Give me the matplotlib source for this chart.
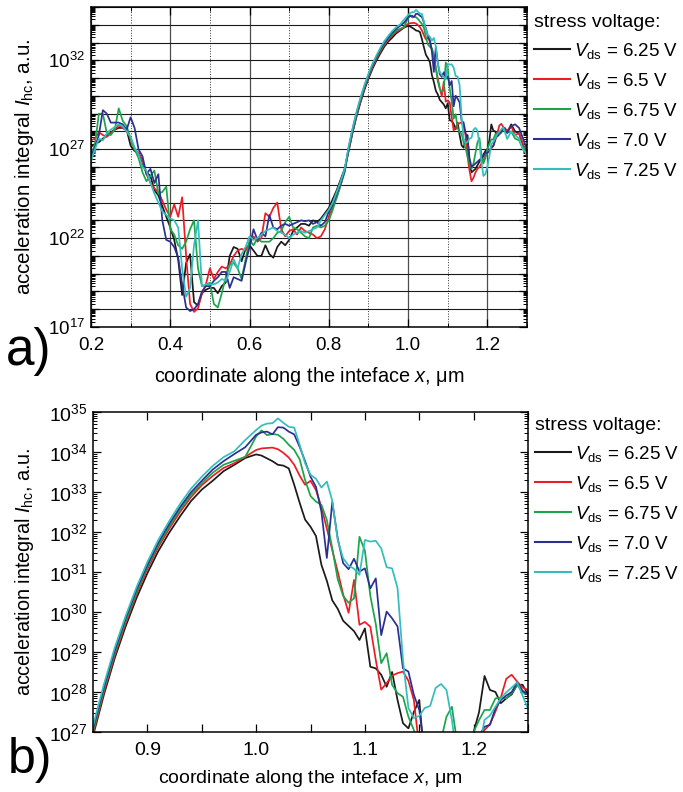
import numpy as np
import matplotlib
matplotlib.use("Agg")
import matplotlib.pyplot as plt
from matplotlib.ticker import LogLocator, MultipleLocator, FuncFormatter, NullFormatter, FormatStrFormatter

plt.rcParams['font.family'] = ['Liberation Sans', 'DejaVu Sans']
plt.rcParams['mathtext.fontset'] = 'custom'
plt.rcParams['mathtext.rm'] = 'Liberation Sans'
plt.rcParams['mathtext.it'] = 'Liberation Sans:italic'
plt.rcParams['mathtext.default'] = 'regular'

# ---- sample positions along the interface (um) ----
x_a = np.round(np.arange(0.20, 0.845, 0.01), 3)    # 0.20 .. 0.84
x_b = np.round(np.arange(0.85, 0.995, 0.01), 3)    # 0.85 .. 0.99
x_c = np.round(np.arange(1.000, 1.2525, 0.005), 3)  # 1.000 .. 1.250
x_d = np.round(np.arange(1.26, 1.305, 0.01), 3)    # 1.26 .. 1.30
x = np.concatenate([x_a, x_b, x_c, x_d])

# ---- log10 of the acceleration integral ----
black_a = [27.14, 27.3, 27.4, 27.6, 27.75, 27.95, 28.1, 28.2, 28.2, 28.1,
           27.2, 26.9, 26.8, 26.1, 25.7, 25.5, 24.7, 24.4, 23.8, 23.2,
           22.6, 21.9, 20.8, 18.8, 20.6, 21.1, 18.4, 18.2, 18.9, 19.1,
           19.2, 19.2, 18.9, 19.3, 19.5, 21.0, 21.5, 21.4, 20.7, 21.4,
           21.6, 21.3, 21.0, 21.0, 21.6, 21.1, 20.9, 21.5, 21.8, 21.6,
           21.9, 22.4, 22.6, 22.8, 22.8, 22.7, 23.0, 22.9, 23.1, 23.4,
           23.7, 24.2, 24.7, 25.3, 25.9]
black_b = [26.9, 27.93, 28.85, 29.64, 30.35, 30.97, 31.52, 31.98, 32.39, 32.77,
           33.06, 33.28, 33.52, 33.68, 33.85]
black_c = [33.94, 33.91, 33.84, 33.77, 33.68, 33.66, 33.59, 33.18, 32.73, 32.31,
           32.13, 31.9, 31.18, 30.78, 30.29, 30.08, 29.78, 29.65, 29.52, 29.3,
           29.59, 28.63, 28.59, 28.43, 28.13, 28.5, 27.8, 27.22, 27.09, 27.5,
           27.8, 26.2, 25.7, 25.8, 25.9, 26.1, 26.3, 26.5, 26.7, 26.9,
           27.0, 27.5, 28.4, 28.05, 28.0, 27.72, 27.84, 27.94, 28.18, 28.18,
           27.93]
black_d = [28.4, 28.0, 27.9, 27.2, 26.9]

red_a = [27.5, 27.6, 27.95, 27.8, 27.7, 27.9, 28.1, 28.35, 28.2, 28.05,
         27.6, 27.0, 26.8, 26.4, 25.6, 25.1, 24.8, 24.6, 24.1, 23.6,
         23.2, 23.9, 23.2, 24.3, 21.0, 18.3, 17.85, 18.05, 18.9, 19.4,
         20.3, 19.7, 20.1, 20.4, 20.3, 20.5, 21.0, 21.3, 21.4, 21.3,
         21.7, 22.1, 21.8, 22.0, 23.4, 23.2, 23.7, 24.0, 22.5, 22.1,
         22.4, 22.5, 22.2, 22.6, 22.4, 22.3, 22.2, 22.0, 22.1, 22.5,
         23.2, 23.8, 24.3, 25.0, 25.8]
red_b = [26.96, 28.0, 28.92, 29.72, 30.44, 31.07, 31.62, 32.08, 32.5, 32.87,
         33.17, 33.4, 33.6, 33.72, 33.88]
red_c = [34.05, 34.09, 34.1, 34.11, 34.07, 33.98, 33.86, 33.68, 33.41, 33.18,
         33.28, 33.05, 32.62, 32.08, 31.54, 31.01, 30.44, 29.98, 30.8, 29.68,
         29.75, 29.63, 28.8, 28.06, 28.22, 28.41, 28.47, 28.51, 28.28, 27.8,
         26.6, 25.8, 25.2, 25.4, 25.7, 25.9, 26.0, 26.2, 26.4, 26.6,
         26.8, 26.9, 27.05, 27.19, 27.51, 27.86, 28.33, 28.43, 28.26, 28.11,
         28.05]
red_d = [28.3, 27.8, 27.9, 27.3, 26.6]

green_a = [26.6, 27.3, 29.0, 29.0, 27.9, 27.8, 28.1, 29.3, 28.6, 28.3,
           27.6, 27.0, 26.5, 25.7, 25.2, 25.5, 25.8, 24.5, 24.6, 24.9,
           22.5, 22.2, 21.6, 21.4, 21.8, 22.5, 23.0, 20.3, 19.3, 19.35,
           19.5, 18.3, 18.1, 18.9, 19.8, 20.5, 20.6, 20.3, 19.7, 20.8,
           21.9, 21.6, 22.0, 21.8, 21.8, 21.8, 22.0, 22.3, 22.4, 22.9,
           23.2, 22.6, 22.5, 22.3, 22.1, 22.0, 22.6, 22.7, 22.6, 22.7,
           23.0, 23.6, 24.3, 25.0, 25.7]
green_b = [27.02, 28.06, 28.98, 29.78, 30.5, 31.13, 31.68, 32.14, 32.56, 32.93,
           33.22, 33.48, 33.68, 33.78, 33.88]
green_c = [34.39, 34.54, 34.42, 34.45, 34.43, 34.33, 34.18, 34.05, 33.82, 33.3,
           32.9, 32.76, 32.68, 32.3, 31.59, 30.82, 30.4, 30.23, 30.34, 31.88,
           31.53, 30.4, 29.7, 28.72, 28.97, 28.18, 27.97, 27.88, 27.38, 27.05,
           26.6, 26.2, 25.9, 26.2, 26.8, 27.38, 27.63, 26.7, 26.2, 26.5,
           27.0, 27.3, 27.55, 27.55, 27.84, 27.86, 27.84, 27.97, 28.18, 27.99,
           27.93]
green_d = [28.0, 27.6, 27.5, 27.0, 27.2]

blue_a = [26.6, 27.1, 27.8, 29.2, 29.0, 28.5, 28.5, 28.5, 28.4, 28.1,
          28.8, 28.2, 27.0, 26.6, 25.6, 25.9, 25.1, 25.6, 23.0, 21.9,
          21.8, 21.5, 20.9, 19.4, 18.1, 17.9, 18.0, 18.3, 19.0, 19.3,
          19.3, 19.6, 19.8, 20.1, 20.1, 19.2, 19.8, 19.7, 19.6, 20.6,
          21.5, 22.5, 21.9, 22.3, 22.1, 23.3, 22.6, 22.5, 22.7, 22.8,
          22.7, 22.8, 22.9, 23.0, 22.95, 23.0, 22.8, 22.9, 22.7, 22.9,
          23.5, 23.9, 24.5, 25.1, 25.8]
blue_b = [27.08, 28.12, 29.04, 29.84, 30.56, 31.18, 31.73, 32.2, 32.62, 32.99,
          33.28, 33.56, 33.77, 33.95, 34.12]
blue_c = [34.43, 34.49, 34.51, 34.44, 34.62, 34.61, 34.51, 34.44, 34.13, 33.77,
          33.38, 33.13, 32.51, 31.35, 32.75, 31.84, 31.22, 31.07, 31.33, 31.01,
          31.09, 30.59, 30.84, 29.42, 30.01, 29.84, 29.64, 28.59, 28.51, 27.93,
          27.55, 26.5, 26.0, 26.1, 26.2, 26.3, 26.4, 26.5, 26.6, 26.8,
          26.8, 26.9, 27.13, 27.18, 27.59, 27.8, 27.91, 28.0, 28.24, 28.03,
          27.93]
blue_d = [28.3, 28.4, 28.2, 27.6, 27.0]

cyan_a = [26.3, 27.0, 27.6, 27.5, 27.9, 28.1, 28.25, 28.4, 28.3, 28.0,
          27.7, 27.1, 26.7, 26.0, 25.8, 25.1, 24.5, 24.0, 23.5, 23.3,
          23.1, 23.0, 22.6, 20.3, 18.7, 19.2, 21.6, 23.0, 19.3, 19.4,
          19.4, 19.4, 19.5, 19.7, 19.6, 20.1, 20.8, 20.3, 21.1, 21.5,
          22.1, 21.9, 22.0, 22.2, 22.4, 22.5, 22.6, 22.4, 22.3, 22.2,
          22.0, 22.2, 22.3, 22.4, 22.3, 22.4, 22.5, 22.6, 23.0, 23.3,
          23.6, 24.0, 24.6, 25.2, 25.9]
cyan_b = [27.15, 28.19, 29.11, 29.9, 30.62, 31.25, 31.8, 32.27, 32.7, 33.08,
          33.38, 33.65, 33.87, 34.02, 34.3]
cyan_c = [34.55, 34.66, 34.71, 34.72, 34.84, 34.73, 34.63, 34.61, 34.18, 33.72,
          33.43, 33.33, 33.11, 33.26, 32.78, 31.8, 31.34, 31.16, 31.08, 30.93,
          31.8, 31.76, 31.78, 31.59, 31.12, 31.09, 30.6, 28.8, 27.6, 27.35,
          27.4, 27.6, 27.65, 28.1, 28.2, 28.05, 27.3, 26.3, 25.5, 25.6,
          26.0, 26.6, 27.3, 27.41, 27.63, 27.84, 27.99, 28.11, 28.24, 27.91,
          27.58]
cyan_d = [28.0, 27.8, 27.6, 27.0, 26.7]

labels = ["6.25", "6.5", "6.75", "7.0", "7.25"]
colors = ["#1a1a1a", "#ec1c24", "#1ba54b", "#2b3090", "#35bdbd"]
series = [black_a + black_b + black_c + black_d,
          red_a + red_b + red_c + red_d,
          green_a + green_b + green_c + green_d,
          blue_a + blue_b + blue_c + blue_d,
          cyan_a + cyan_b + cyan_c + cyan_d]


def decade_label(step, first):
    def fmt(v, pos):
        e = int(round(np.log10(v)))
        if (e - first) % step:
            return ""
        return r"$\mathdefault{10^{%d}}$" % e
    return fmt


def draw(ax, leg_y):
    for vals, lab, col in zip(series, labels, colors):
        ax.plot(x, 10.0 ** np.array(vals), color=col, lw=1.25,
                label=r"$\mathit{V}_{\mathrm{ds}}$ = %s V" % lab)
    ax.set_yscale("log")
    ax.yaxis.set_minor_locator(LogLocator(base=10, subs=np.arange(2, 10), numticks=60))
    ax.yaxis.set_minor_formatter(NullFormatter())
    ax.tick_params(which="both", direction="in", top=True, right=True)
    ax.tick_params(which="major", length=6, width=0.9)
    ax.tick_params(which="minor", length=3, width=0.7)
    for s in ax.spines.values():
        s.set_linewidth(1.1)
    leg = ax.legend(loc="upper left", bbox_to_anchor=(1.0, leg_y), frameon=False,
                    title="stress voltage:", alignment="left", fontsize=13.5,
                    title_fontsize=14, handlelength=1.92, handletextpad=0.22,
                    labelspacing=0.53, borderaxespad=0.0, borderpad=0.37)
    for ln in leg.get_lines():
        ln.set_linewidth(1.5)


fig = plt.figure(figsize=(6.83, 7.92), dpi=100)

# ---- a) full interface ----
ax1 = fig.add_axes([0.1332, 0.5871, 0.6384, 0.4040])
draw(ax1, 1.0)
ax1.set_xlim(0.2, 1.3)
ax1.set_ylim(1e17, 1e35)
ax1.yaxis.set_major_locator(LogLocator(base=10, subs=(1.0,), numticks=60))
ax1.yaxis.set_major_formatter(FuncFormatter(decade_label(5, 17)))
ax1.xaxis.set_major_locator(MultipleLocator(0.2))
ax1.xaxis.set_minor_locator(MultipleLocator(0.1))
ax1.xaxis.set_major_formatter(FormatStrFormatter("%.1f"))
ax1.set_axisbelow(True)
ax1.grid(which="major", axis="y", color="0.1", lw=0.8)
ax1.grid(which="major", axis="x", color="0.3", lw=0.9)
ax1.grid(which="minor", axis="x", color="0.2", lw=0.7, ls=":")
ax1.tick_params(axis="x", labelsize=13.5, pad=7)
ax1.tick_params(axis="y", labelsize=13.5, pad=4)
ax1.set_xlabel(r"coordinate along the inteface $\mathit{x}$, μm", fontsize=14.3)
ax1.xaxis.set_label_coords(0.5, -0.118)
ax1.set_ylabel(r"acceleration integral $\mathit{I}_{\mathrm{hc}}$, a.u.", fontsize=14.8)
ax1.yaxis.set_label_coords(-0.126, 0.5)

# ---- b) zoom on the peak ----
ax2 = fig.add_axes([0.1362, 0.0758, 0.6369, 0.4040])
draw(ax2, 1.006)
ax2.set_xlim(0.85, 1.25)
ax2.set_ylim(1e27, 1e35)
ax2.yaxis.set_major_locator(LogLocator(base=10, subs=(1.0,), numticks=60))
ax2.yaxis.set_major_formatter(FuncFormatter(decade_label(1, 27)))
ax2.xaxis.set_major_locator(MultipleLocator(0.05))
ax2.xaxis.set_major_formatter(FuncFormatter(
    lambda v, p: "%.1f" % v if abs(v * 10 - round(v * 10)) < 1e-6 else ""))
ax2.tick_params(axis="x", labelsize=14, pad=7)
ax2.tick_params(axis="y", labelsize=14, pad=4)
ax2.set_xlabel(r"coordinate along the inteface $\mathit{x}$, μm", fontsize=14.0)
ax2.xaxis.set_label_coords(0.5, -0.113)
ax2.set_ylabel(r"acceleration integral $\mathit{I}_{\mathrm{hc}}$, a.u.", fontsize=14.3)
ax2.yaxis.set_label_coords(-0.131, 0.5)

fig.text(0.008, 0.539, "a)", fontsize=37, va="baseline")
fig.text(0.012, 0.024, "b)", fontsize=36, va="baseline")

fig.savefig("out.png", dpi=100)
